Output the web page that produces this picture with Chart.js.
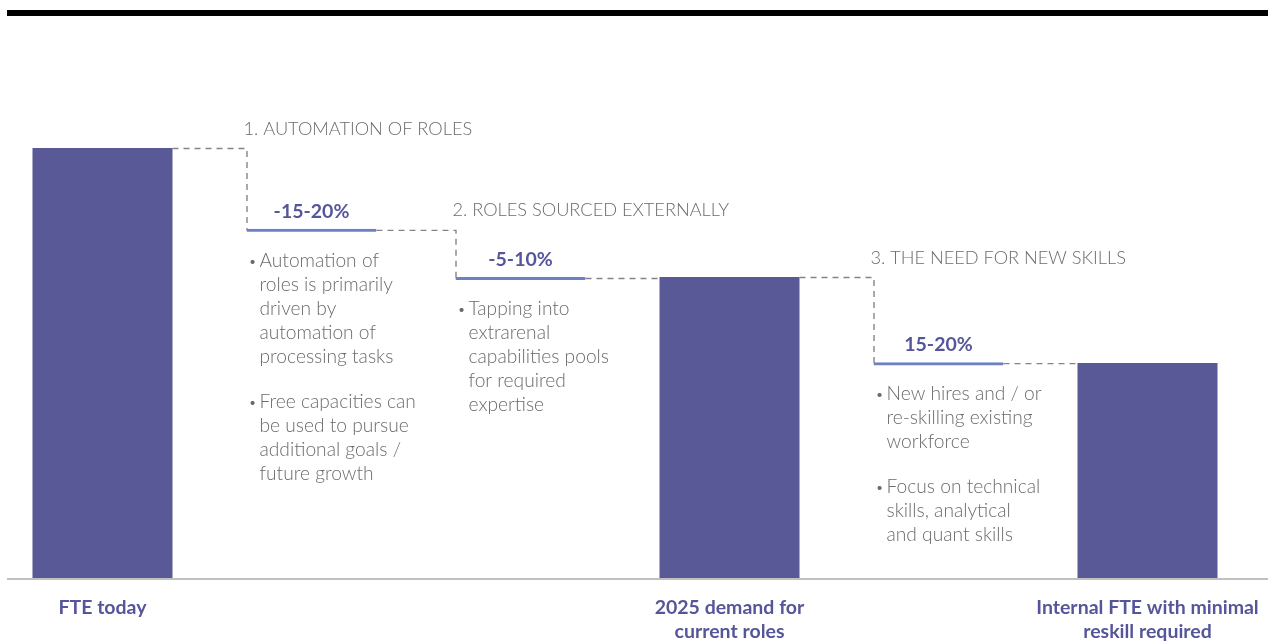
<!DOCTYPE html>
<html>
<head>
<meta charset="utf-8">
<script src="https://cdn.jsdelivr.net/npm/chart.js@4.4.1/dist/chart.umd.min.js"></script>
<style>
html, body { margin: 0; padding: 0; background: #fff; overflow: hidden; }
#wrap { position: relative; width: 1268px; height: 642px; overflow: hidden; }
#topbar { position: absolute; left: 7px; top: 10px; width: 1261px; height: 6px; background: #000; }
#chart { position: absolute; left: -2px; top: 0; }
</style>
</head>
<body>
<div id="wrap">
  <div id="topbar"></div>
  <canvas id="chart" width="1270" height="642"></canvas>
</div>
<script>
// columns of the waterfall
const categories = [
    ['FTE today'],
    [''],
    [''],
    ['2025 demand for', 'current roles'],
    [''],
    ['Internal FTE with minimal', 'reskill required']
];
const barValues = [100, null, null, 70, null, 50];
const stepValues = [null, 81.2, 70, null, 50.2, null];
const stepTitles = ['', '1. AUTOMATION OF ROLES', '2. ROLES SOURCED EXTERNALLY', '', '3. THE NEED FOR NEW SKILLS', ''];
const stepChanges = ['', '-15-20%', '-5-10%', '', '15-20%', ''];
const stepNotes = [
    [],
    [
        ['Automation of', 'roles is primarily', 'driven by', 'automation of', 'processing tasks'],
        ['Free capacities can', 'be used to pursue', 'additional goals /', 'future growth']
    ],
    [
        ['Tapping into', 'extrarenal', 'capabilities pools', 'for required', 'expertise']
    ],
    [],
    [
        ['New hires and / or', 're-skilling existing', 'workforce'],
        ['Focus on technical', 'skills, analytical', 'and quant skills']
    ],
    []
];

const purple = '#5a5998';
const labelPurple = '#55559a';
const stepBlue = '#6e80c4';
const grey = '#6b6b6b';

function getEl(chart, i) {
    if (barValues[i] !== null) {
        const el = chart.getDatasetMeta(0).data[i];
        return { left: el.x - el.width / 2, right: el.x + el.width / 2, x: el.x, y: el.y + 0.5, top: el.y };
    }
    const el = chart.getDatasetMeta(1).data[i];
    return { left: el.x - el.width / 2, right: el.x + el.width / 2, x: el.x, y: el.y + 1.5, top: el.y };
}

const waterfallDecor = {
    id: 'waterfallDecor',
    afterDatasetsDraw(chart) {
        const ctx = chart.ctx;
        const area = chart.chartArea;
        const xScale = chart.scales.x;

        // dashed connectors
        ctx.save();
        ctx.strokeStyle = '#858585';
        ctx.lineWidth = 1.4;
        ctx.setLineDash([6, 5]);
        for (let i = 0; i < categories.length - 1; i++) {
            const a = getEl(chart, i);
            const b = getEl(chart, i + 1);
            ctx.beginPath();
            ctx.moveTo(a.right, a.y);
            ctx.lineTo(b.left + 0.5, a.y);
            if (Math.abs(a.y - b.y) > 1) ctx.lineTo(b.left + 0.5, b.y);
            ctx.stroke();
        }
        ctx.restore();

        // axis line
        ctx.save();
        ctx.strokeStyle = '#ababab';
        ctx.lineWidth = 1.5;
        ctx.beginPath();
        ctx.moveTo(9, area.bottom + 1);
        ctx.lineTo(1270, area.bottom + 1);
        ctx.stroke();
        ctx.restore();

        // step annotations
        ctx.save();
        for (let i = 1; i < categories.length; i++) {
            if (stepValues[i] === null) continue;
            const el = getEl(chart, i);
            const prev = getEl(chart, i - 1);

            ctx.font = '300 18.2px Lato, "Open Sans", sans-serif';
            ctx.fillStyle = grey;
            ctx.textAlign = 'left';
            ctx.textBaseline = 'alphabetic';
            ctx.fillText(stepTitles[i], el.left - 3, prev.y - 14);

            ctx.font = 'bold 19.5px Lato, "Open Sans", sans-serif';
            ctx.fillStyle = labelPurple;
            ctx.textAlign = 'center';
            ctx.fillText(stepChanges[i], el.x, el.top - 11);

            ctx.fillStyle = grey;
            ctx.textAlign = 'left';
            let y = el.top + 38;
            stepNotes[i].forEach(par => {
                par.forEach((line, k) => {
                    if (k === 0) {
                        ctx.font = '300 14px Lato, "Open Sans", sans-serif';
                        ctx.fillText('\u2022', el.left + 2, y - 1);
                    }
                    ctx.font = '300 19.2px Lato, "Open Sans", sans-serif';
                    ctx.fillText(line, el.left + 13, y);
                    y += 24;
                });
                y += 21;
            });
        }
        ctx.restore();

        // category labels
        ctx.save();
        ctx.font = 'bold 19.5px Lato, "Open Sans", sans-serif';
        ctx.fillStyle = labelPurple;
        ctx.textAlign = 'center';
        ctx.textBaseline = 'middle';
        categories.forEach((lines, i) => {
            const x = xScale.getPixelForValue(i);
            lines.forEach((line, k) => {
                ctx.fillText(line, x, area.bottom + 30 + k * 24);
            });
        });
        ctx.restore();
    }
};

new Chart(document.getElementById('chart'), {
    type: 'bar',
    data: {
        labels: categories,
        datasets: [
            {
                label: 'FTE',
                data: barValues,
                backgroundColor: purple,
                borderWidth: 0,
                grouped: false,
                categoryPercentage: 1,
                barPercentage: 0.67
            },
            {
                label: 'Change',
                data: stepValues,
                backgroundColor: 'rgba(0,0,0,0)',
                borderColor: stepBlue,
                borderWidth: { top: 3, left: 0, right: 0, bottom: 0 },
                borderSkipped: false,
                grouped: false,
                categoryPercentage: 1,
                barPercentage: 0.622
            }
        ]
    },
    options: {
        responsive: false,
        animation: false,
        layout: { padding: { top: 148, bottom: 64, left: 0, right: 16 } },
        plugins: { legend: { display: false }, tooltip: { enabled: false } },
        scales: {
            x: { display: false },
            y: { display: false, min: 0, max: 100 }
        }
    },
    plugins: [waterfallDecor]
});
</script>
</body>
</html>
